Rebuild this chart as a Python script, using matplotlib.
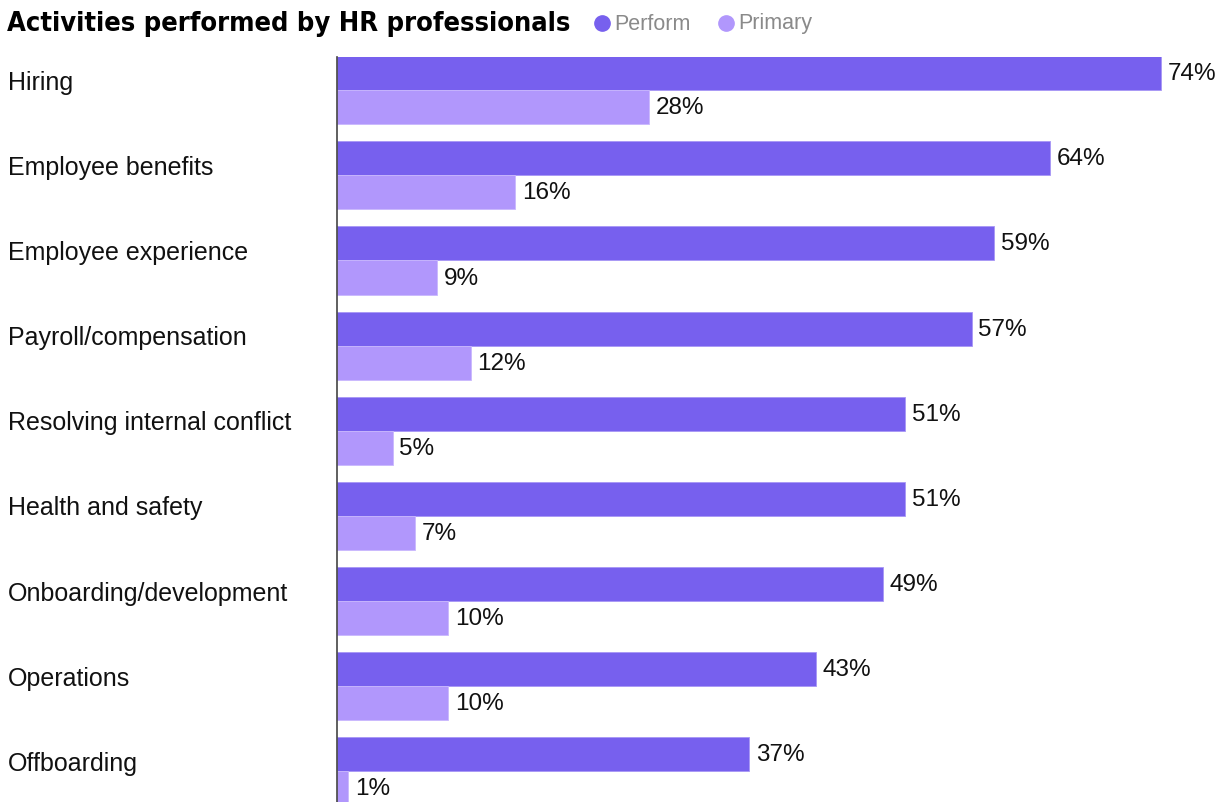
import numpy as np
import matplotlib.pyplot as plt
from matplotlib.lines import Line2D
import matplotlib.transforms as mtransforms

activities = ['Hiring', 'Employee benefits', 'Employee experience', 'Payroll/compensation',
              'Resolving internal conflict', 'Health and safety', 'Onboarding/development',
              'Operations', 'Offboarding']
perform = [74, 64, 59, 57, 51, 51, 49, 43, 37]
primary = [28, 16, 9, 12, 5, 7, 10, 10, 1]

c_perform = '#7760EE'
c_primary = '#B197FC'

W, H = 1220, 803
fig = plt.figure(figsize=(W / 100, H / 100), dpi=100)
ax = fig.add_axes([337 / W, 0, (W - 337) / W, (803 - 58) / H])

y = np.arange(len(activities))
h = 0.4
ax.barh(y - h / 2, perform, height=h, color=c_perform, edgecolor='#A896F5', linewidth=0.6)
ax.barh(y + h / 2, primary, height=h, color=c_primary, edgecolor='#C9B8FD', linewidth=0.6)

for i in range(len(activities)):
    ax.text(perform[i] + 0.6, y[i] - h / 2, f'{perform[i]}%', va='center', ha='left',
            fontsize=17.5, family='Liberation Sans', color='#111111')
    ax.text(primary[i] + 0.6, y[i] + h / 2, f'{primary[i]}%', va='center', ha='left',
            fontsize=17.5, family='Liberation Sans', color='#111111')

ax.set_xlim(0, 79.3)
ax.set_ylim(8.36, -0.39)
for s in ['top', 'right', 'bottom']:
    ax.spines[s].set_visible(False)
ax.spines['left'].set_color('#444444')
ax.spines['left'].set_linewidth(1.2)
ax.set_xticks([])
ax.set_yticks([])

# category labels on the left side of the figure
trans = mtransforms.blended_transform_factory(fig.transFigure, ax.transData)
for i, name in enumerate(activities):
    ax.text(8 / W, y[i] - 0.1, name, transform=trans, va='center', ha='left',
            fontsize=18, family='Liberation Sans', color='#111111', clip_on=False)

# title and legend
fig.text(7 / W, 1 - 24 / H, 'Activities performed by HR professionals', va='center', ha='left',
         fontsize=19.5, fontweight='bold', fontstretch='condensed', family='DejaVu Sans',
         color='#000000')
for xc, lab, col in [(602, 'Perform', c_perform), (726, 'Primary', c_primary)]:
    fig.add_artist(Line2D([xc / W], [1 - 24 / H], marker='o', markersize=11, color=col,
                          linestyle='none', transform=fig.transFigure))
    fig.text((xc + 12) / W, 1 - 24 / H, lab, va='center', ha='left', fontsize=15.5,
             family='Liberation Sans', color='#8a8a8a')

fig.savefig('out.png', dpi=100)
